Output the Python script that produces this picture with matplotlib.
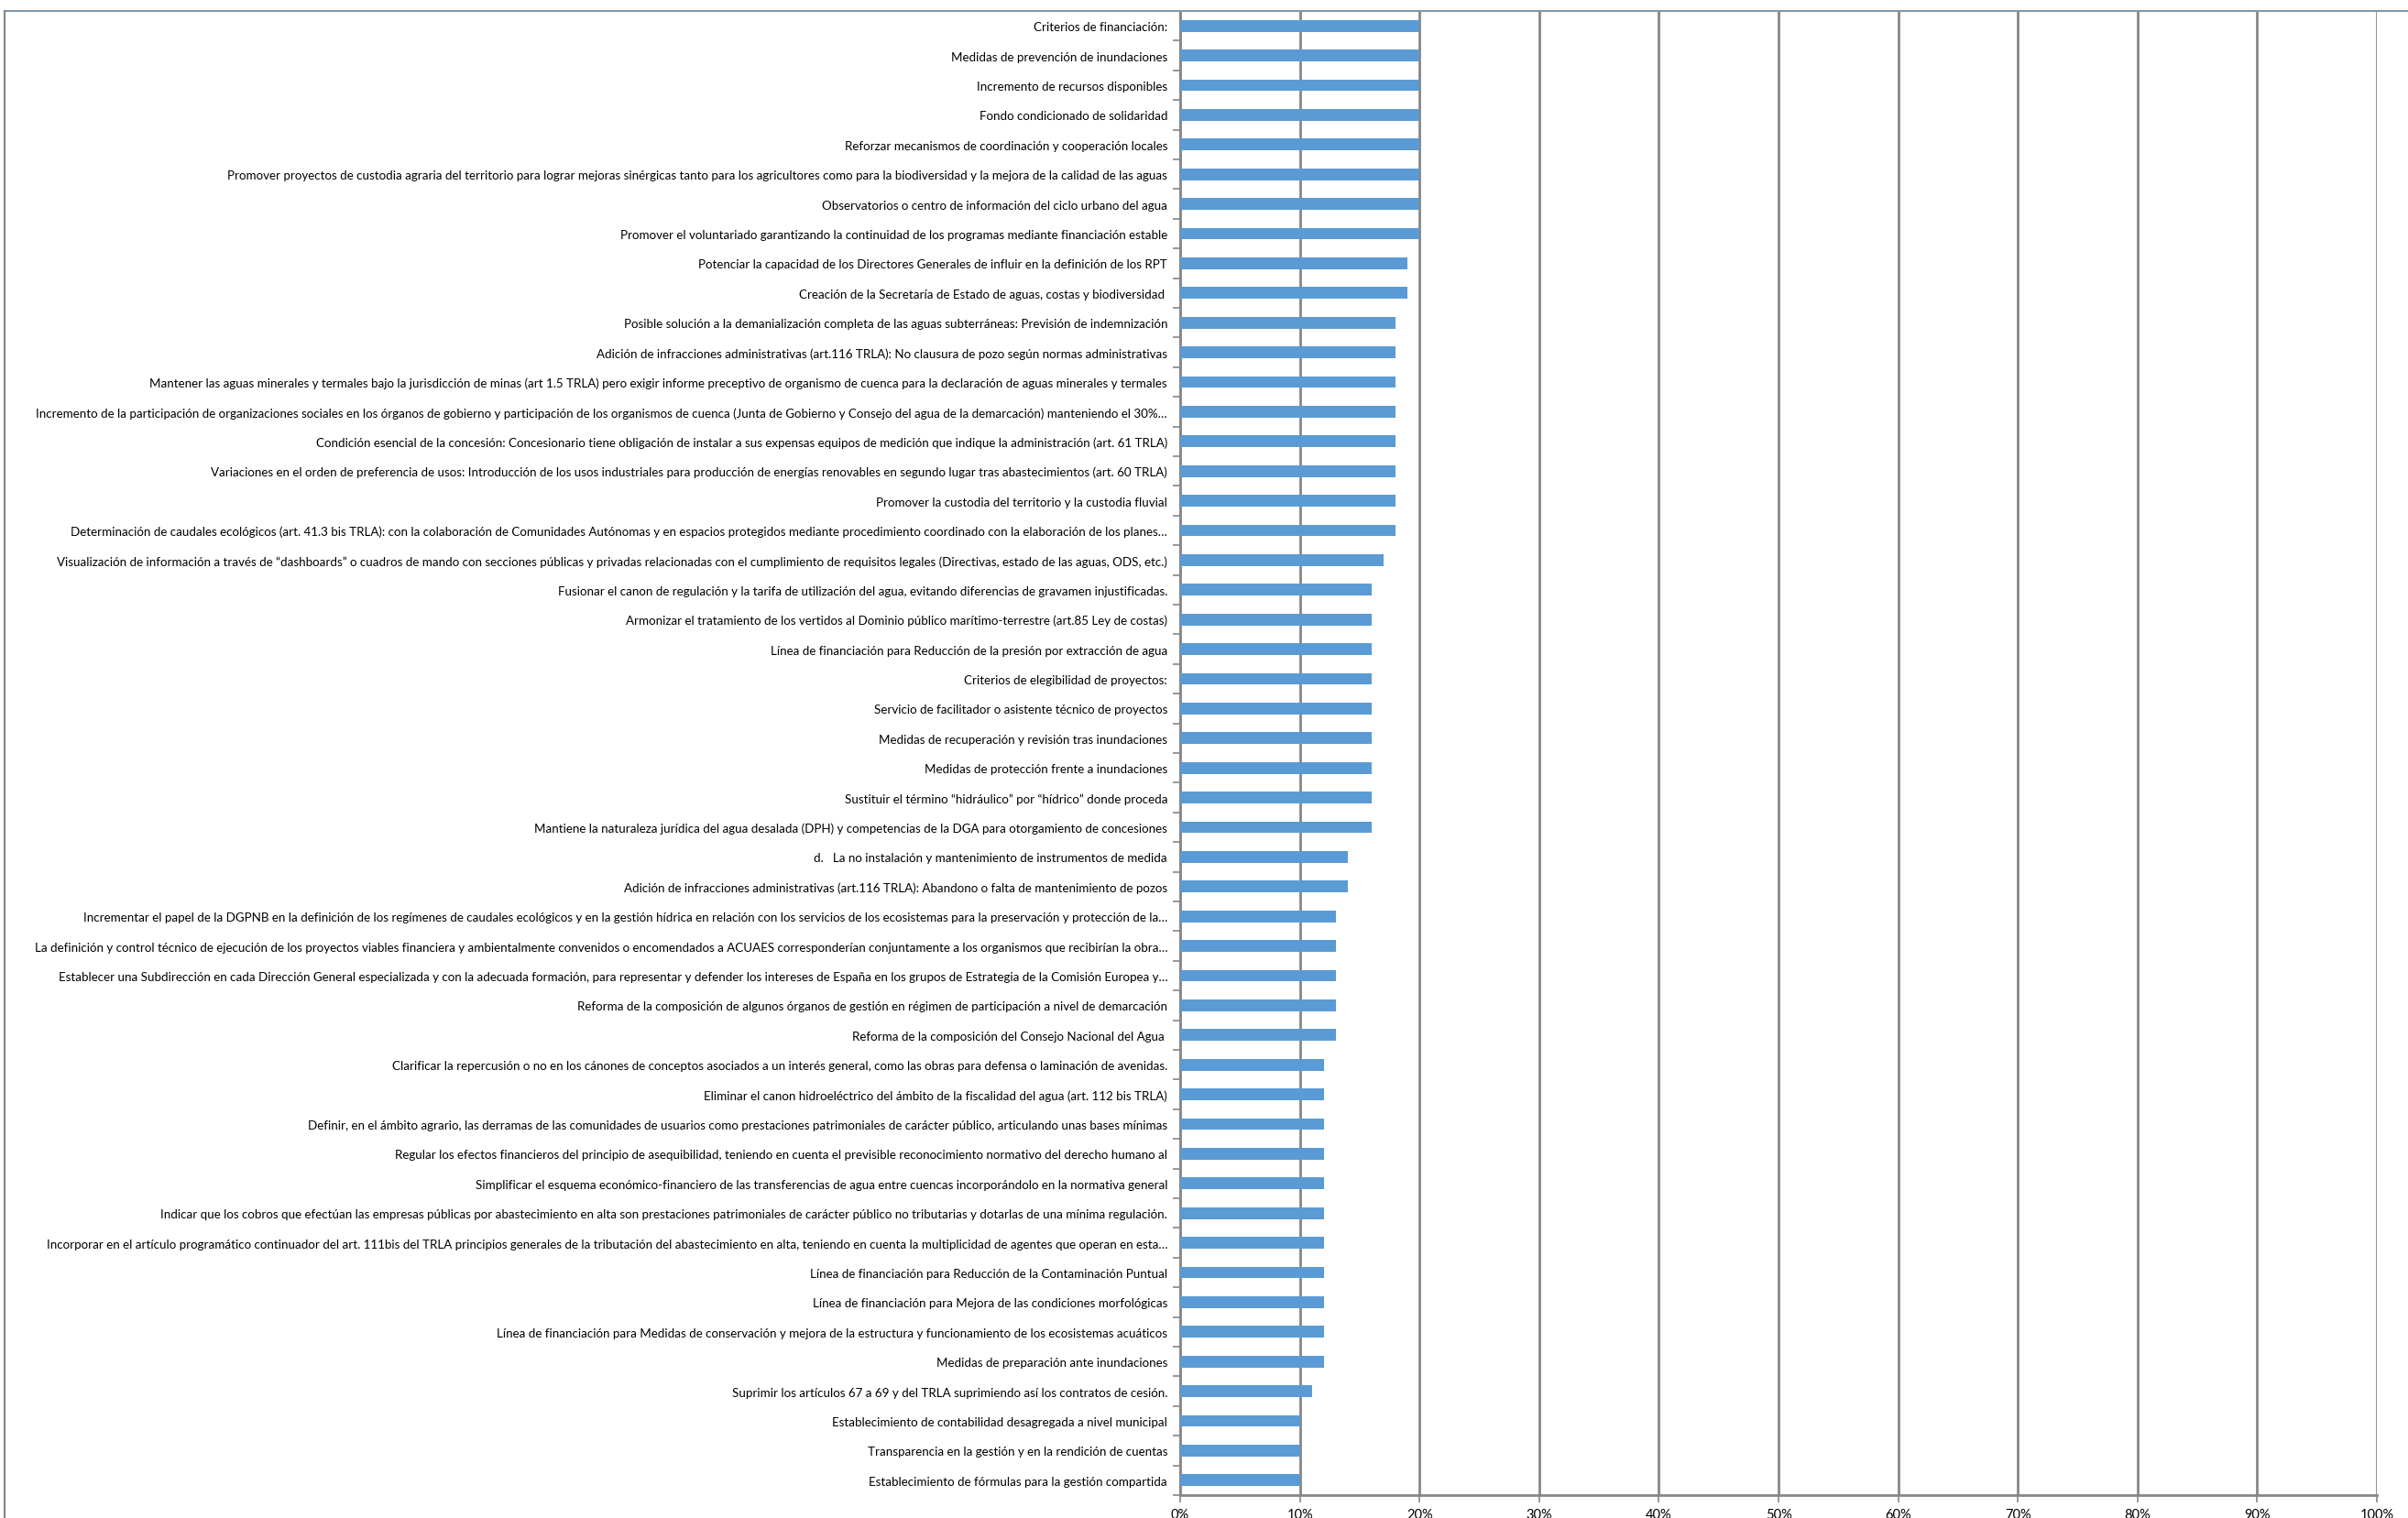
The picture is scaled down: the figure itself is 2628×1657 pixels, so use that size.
import numpy as np
import matplotlib
matplotlib.use("Agg")
import matplotlib.pyplot as plt
from matplotlib.lines import Line2D
from matplotlib.ticker import FixedLocator, PercentFormatter

plt.rcParams['font.family'] = ['Lato', 'DejaVu Sans']

# categorías de arriba a abajo
categorias = [
    "Criterios de financiación:",
    "Medidas de prevención de inundaciones",
    "Incremento de recursos disponibles",
    "Fondo condicionado de solidaridad",
    "Reforzar mecanismos de coordinación y cooperación locales",
    "Promover proyectos de custodia agraria del territorio para lograr mejoras sinérgicas tanto para los agricultores como para la biodiversidad y la mejora de la calidad de las aguas",
    "Observatorios o centro de información del ciclo urbano del agua",
    "Promover el voluntariado garantizando la continuidad de los programas mediante financiación estable",
    "Potenciar la capacidad de los Directores Generales de influir en la definición de los RPT",
    "Creación de la Secretaría de Estado de aguas, costas y biodiversidad ",
    "Posible solución a la demanialización completa de las aguas subterráneas: Previsión de indemnización",
    "Adición de infracciones administrativas (art.116 TRLA): No clausura de pozo según normas administrativas",
    "Mantener las aguas minerales y termales bajo la jurisdicción de minas (art 1.5 TRLA) pero exigir informe preceptivo de organismo de cuenca para la declaración de aguas minerales y termales",
    "Incremento de la participación de organizaciones sociales en los órganos de gobierno y participación de los organismos de cuenca (Junta de Gobierno y Consejo del agua de la demarcación) manteniendo el 30%…",
    "Condición esencial de la concesión: Concesionario tiene obligación de instalar a sus expensas equipos de medición que indique la administración (art. 61 TRLA)",
    "Variaciones en el orden de preferencia de usos: Introducción de los usos industriales para producción de energías renovables en segundo lugar tras abastecimientos (art. 60 TRLA)",
    "Promover la custodia del territorio y la custodia fluvial",
    "Determinación de caudales ecológicos (art. 41.3 bis TRLA): con la colaboración de Comunidades Autónomas y en espacios protegidos mediante procedimiento coordinado con la elaboración de los planes…",
    "Visualización de información a través de “dashboards” o cuadros de mando con secciones públicas y privadas relacionadas con el cumplimiento de requisitos legales (Directivas, estado de las aguas, ODS, etc.)",
    "Fusionar el canon de regulación y la tarifa de utilización del agua, evitando diferencias de gravamen injustificadas.",
    "Armonizar el tratamiento de los vertidos al Dominio público marítimo-terrestre (art.85 Ley de costas)",
    "Línea de financiación para Reducción de la presión por extracción de agua",
    "Criterios de elegibilidad de proyectos:",
    "Servicio de facilitador o asistente técnico de proyectos",
    "Medidas de recuperación y revisión tras inundaciones",
    "Medidas de protección frente a inundaciones",
    "Sustituir el término “hidráulico” por “hídrico” donde proceda",
    "Mantiene la naturaleza jurídica del agua desalada (DPH) y competencias de la DGA para otorgamiento de concesiones",
    "d.   La no instalación y mantenimiento de instrumentos de medida",
    "Adición de infracciones administrativas (art.116 TRLA): Abandono o falta de mantenimiento de pozos",
    "Incrementar el papel de la DGPNB en la definición de los regímenes de caudales ecológicos y en la gestión hídrica en relación con los servicios de los ecosistemas para la preservación y protección de la…",
    "La definición y control técnico de ejecución de los proyectos viables financiera y ambientalmente convenidos o encomendados a ACUAES corresponderían conjuntamente a los organismos que recibirían la obra…",
    "Establecer una Subdirección en cada Dirección General especializada y con la adecuada formación, para representar y defender los intereses de España en los grupos de Estrategia de la Comisión Europea y…",
    "Reforma de la composición de algunos órganos de gestión en régimen de participación a nivel de demarcación",
    "Reforma de la composición del Consejo Nacional del Agua ",
    "Clarificar la repercusión o no en los cánones de conceptos asociados a un interés general, como las obras para defensa o laminación de avenidas.",
    "Eliminar el canon hidroeléctrico del ámbito de la fiscalidad del agua (art. 112 bis TRLA)",
    "Definir, en el ámbito agrario, las derramas de las comunidades de usuarios como prestaciones patrimoniales de carácter público, articulando unas bases mínimas",
    "Regular los efectos financieros del principio de asequibilidad, teniendo en cuenta el previsible reconocimiento normativo del derecho humano al",
    "Simplificar el esquema económico-financiero de las transferencias de agua entre cuencas incorporándolo en la normativa general",
    "Indicar que los cobros que efectúan las empresas públicas por abastecimiento en alta son prestaciones patrimoniales de carácter público no tributarias y dotarlas de una mínima regulación.",
    "Incorporar en el artículo programático continuador del art. 111bis del TRLA principios generales de la tributación del abastecimiento en alta, teniendo en cuenta la multiplicidad de agentes que operan en esta…",
    "Línea de financiación para Reducción de la Contaminación Puntual",
    "Línea de financiación para Mejora de las condiciones morfológicas",
    "Línea de financiación para Medidas de conservación y mejora de la estructura y funcionamiento de los ecosistemas acuáticos",
    "Medidas de preparación ante inundaciones",
    "Suprimir los artículos 67 a 69 y del TRLA suprimiendo así los contratos de cesión.",
    "Establecimiento de contabilidad desagregada a nivel municipal",
    "Transparencia en la gestión y en la rendición de cuentas",
    "Establecimiento de fórmulas para la gestión compartida",
]

valores = [
    0.20, 0.20, 0.20, 0.20, 0.20, 0.20, 0.20, 0.20,
    0.19, 0.19,
    0.18, 0.18, 0.18, 0.18, 0.18, 0.18, 0.18, 0.18,
    0.17,
    0.16, 0.16, 0.16, 0.16, 0.16, 0.16, 0.16, 0.16, 0.16,
    0.14, 0.14,
    0.13, 0.13, 0.13, 0.13, 0.13,
    0.12, 0.12, 0.12, 0.12, 0.12, 0.12, 0.12, 0.12, 0.12, 0.12, 0.12,
    0.11,
    0.10, 0.10, 0.10,
]

xticks = [0, 0.1, 0.2, 0.3, 0.4, 0.5, 0.6, 0.7, 0.8, 0.9, 1.0]

fig = plt.figure(figsize=(26.28, 16.58), dpi=100)
ax = fig.add_axes([1288 / 2628, 1 - 1633 / 1658, (2594 - 1288) / 2628, (1633 - 13) / 1658])

n = len(categorias)
y = np.arange(n)
ax.barh(y, valores, height=0.4, color='#5B9BD5', zorder=3)

ax.set_ylim(n - 0.5, -0.5)
ax.set_xlim(0, 1)
ax.set_yticks(y)
ax.set_yticklabels(categorias, fontsize=9.6)
ax.yaxis.set_minor_locator(FixedLocator(np.arange(-0.5, n, 1)))
ax.tick_params(axis='y', which='major', length=0, pad=10)
ax.tick_params(axis='y', which='minor', length=6, width=1.2, color='#868686')

ax.set_xticks(xticks)
ax.xaxis.set_major_formatter(PercentFormatter(1.0, decimals=0))
ax.tick_params(axis='x', length=6, width=1.2, color='#868686', labelsize=10.5, pad=4)

ax.grid(axis='x', color='#868686', linewidth=2, zorder=0)
ax.set_axisbelow(True)
for s in ['top', 'right']:
    ax.spines[s].set_visible(False)
ax.spines['left'].set_color('#868686')
ax.spines['left'].set_linewidth(1.5)
ax.spines['bottom'].set_color('#868686')
ax.spines['bottom'].set_linewidth(2)

# borde del área del gráfico
fig.add_artist(Line2D([5 / 2628, 1], [1 - 13 / 1658, 1 - 13 / 1658], color='#8497A8', linewidth=1.5))
fig.add_artist(Line2D([5 / 2628, 5 / 2628], [0, 1 - 13 / 1658], color='#868686', linewidth=1.5))

fig.savefig("out.png", dpi=100, facecolor='white')
